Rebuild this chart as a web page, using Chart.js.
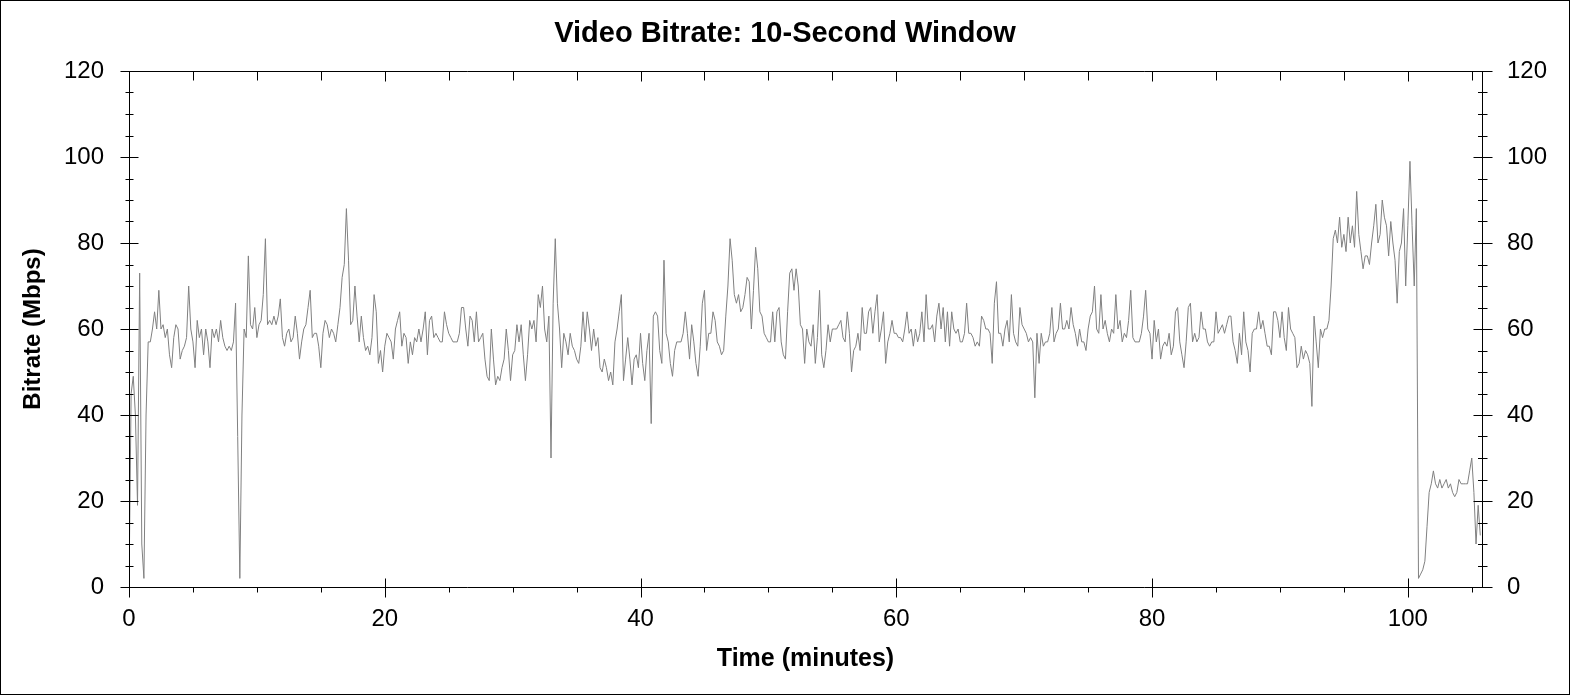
<!DOCTYPE html>
<html>
<head>
<meta charset="utf-8">
<script src="https://cdn.jsdelivr.net/npm/chart.js@4"></script>
<style>
html,body{margin:0;padding:0;background:#fff;}
#wrap{width:1570px;height:695px;position:relative;}
</style>
</head>
<body>
<div id="wrap"><canvas id="c"></canvas></div>
<script>
const chartTitle = 'Video Bitrate: 10-Second Window';
const xTitle = 'Time (minutes)';
const yTitle = 'Bitrate (Mbps)';
const sampleMinutes = 1 / 6;   // one value per 10-second window
const xMajorTicks = [0, 20, 40, 60, 80, 100];
const xMinorTicks = [5, 10, 15, 25, 30, 35, 45, 50, 55, 65, 70, 75, 85, 90, 95, 105];
const yMajorTicks = [0, 20, 40, 60, 80, 100, 120];
const yMinorTicks = [5, 10, 15, 25, 30, 35, 45, 50, 55, 65, 70, 75, 85, 90, 95, 105, 110, 115];

// Mbps, 10-second windows (rows of 5 minutes)
const bitrate = [
  0,45,49,40,19,73,10,2,40,57, 57,60,64,60,69,60,61,58,60,54, 51,58,61,60,53,55,56,58,70,60,
  57,51,62,58,60,54,60,57,51,60, 58,60,57,62,58,56,55,56,55,57, 66,35,2,40,60,58,77,61,60,65,
  58,61,62,68,81,61,62,61,63,61, 63,67,58,56,59,60,57,58,63,59, 53,57,60,61,65,69,58,59,59,56,
  51,59,62,61,58,60,59,57,61,65, 72,75,88,76,61,62,70,63,57,63, 58,55,56,54,58,68,64,52,55,50,
  56,59,58,57,53,60,62,64,56,59, 58,52,57,54,58,57,60,57,60,64, 54,62,63,58,59,58,57,57,64,61,
  59,58,57,57,57,59,65,65,60,56, 63,62,57,64,57,58,59,53,49,48, 60,53,47,49,48,51,53,60,55,48,
  54,55,61,57,61,54,48,54,62,60, 62,57,68,65,70,60,57,63,30,66, 81,66,60,51,59,57,54,59,56,55,
  53,52,56,64,57,64,60,55,60,56, 58,51,50,53,51,48,50,47,57,60, 64,68,48,53,58,53,47,53,54,51,
  59,52,48,55,59,38,63,64,63,55, 52,76,59,57,52,49,55,57,57,57, 59,64,59,53,61,57,52,49,56,66,
  69,55,59,59,64,62,57,56,54,55, 63,70,81,76,68,66,68,64,65,68, 72,71,60,69,79,74,64,63,59,58,
  57,57,64,57,64,65,57,54,53,64, 73,74,69,74,70,61,60,52,60,57, 56,61,52,58,69,54,51,55,61,57,
  60,60,60,61,62,58,57,64,59,50, 55,56,59,55,65,59,59,64,65,59, 64,68,57,60,64,52,57,59,62,59,
  59,58,58,57,60,64,59,60,56,60, 57,59,64,57,68,60,60,61,57,63, 66,60,65,57,64,56,64,60,59,60,
  57,57,59,66,59,59,58,56,57,56, 63,62,60,60,59,52,66,71,59,59, 56,60,62,57,68,59,57,56,65,61,
  60,59,57,58,57,44,59,52,59,56, 57,57,59,65,57,59,60,66,60,60, 62,60,65,61,59,56,60,57,57,55,
  60,63,64,70,60,59,68,60,62,59, 57,60,59,68,60,62,57,59,58,62, 69,58,57,57,57,59,63,69,60,59,
  53,62,57,60,53,56,57,56,59,54, 56,64,65,57,54,51,57,65,66,57, 59,57,58,64,60,60,57,56,57,57,
  64,59,60,61,59,61,63,63,57,55, 52,59,54,64,57,55,50,59,60,60, 64,60,62,59,56,56,54,64,64,62,
  58,64,58,55,65,60,59,58,51,52, 56,53,55,54,52,42,63,57,51,60, 58,60,60,62,70,81,83,80,86,79,
  82,78,86,80,84,79,92,82,78,74, 77,77,75,80,84,89,80,82,90,86, 84,77,85,80,76,66,78,80,88,70,
  84,99,84,70,88,2,3,4,6,14, 22,24,27,24,23,25,23,24,25,23, 24,22,21,22,25,24,24,24,24,27,
  30,22,10,19,12
];

const FONT = "Arial, 'Liberation Sans', sans-serif";

const framePlugin = {
  id: 'frame',
  afterDatasetsDraw(chart) {
    const ctx = chart.ctx;
    const xs = chart.scales.x, ys = chart.scales.y;
    const a = chart.chartArea;
    const L = Math.round(a.left) + 0.5, R = Math.round(a.right) + 0.5;
    const T = Math.round(a.top) + 0.5, B = Math.round(a.bottom) + 0.5;
    ctx.save();
    ctx.strokeStyle = '#000';
    ctx.lineWidth = 1;
    ctx.beginPath();
    ctx.rect(L, T, R - L, B - T);
    yMajorTicks.forEach(v => {
      const p = Math.round(ys.getPixelForValue(v)) + 0.5;
      ctx.moveTo(L - 9, p); ctx.lineTo(L + 9, p);
      ctx.moveTo(R - 9, p); ctx.lineTo(R + 10, p);
    });
    yMinorTicks.forEach(v => {
      const p = Math.round(ys.getPixelForValue(v)) + 0.5;
      ctx.moveTo(L - 4, p); ctx.lineTo(L + 4, p);
      ctx.moveTo(R - 4.5, p); ctx.lineTo(R + 5, p);
    });
    xMajorTicks.forEach(v => {
      const p = Math.round(xs.getPixelForValue(v)) + 0.5;
      ctx.moveTo(p, B - 9); ctx.lineTo(p, B + 10);
      ctx.moveTo(p, T); ctx.lineTo(p, T + 10);
    });
    xMinorTicks.forEach(v => {
      const p = Math.round(xs.getPixelForValue(v)) + 0.5;
      ctx.moveTo(p, B); ctx.lineTo(p, B + 5);
      ctx.moveTo(p, T); ctx.lineTo(p, T + 9);
    });
    ctx.stroke();
    ctx.strokeRect(0.5, 0.5, chart.width - 1, chart.height - 1);
    ctx.restore();
  }
};

const points = bitrate.map((v, i) => ({ x: i * sampleMinutes, y: v }));

new Chart(document.getElementById('c'), {
  type: 'line',
  data: {
    datasets: [{
      data: points,
      borderColor: '#808080',
      borderWidth: 1,
      pointRadius: 0,
      tension: 0,
      fill: false,
      yAxisID: 'y'
    }]
  },
  options: {
    responsive: true,
    maintainAspectRatio: false,
    animation: false,
    devicePixelRatio: 1,
    layout: { padding: 0 },
    plugins: {
      legend: { display: false },
      tooltip: { enabled: false },
      title: {
        display: true,
        text: chartTitle,
        color: '#000',
        font: { family: FONT, size: 29, weight: 'bold' },
        padding: { top: 17, bottom: 19.2 }
      }
    },
    scales: {
      x: {
        type: 'linear', position: 'bottom', min: 0, max: 105.8,
        afterBuildTicks: s => { s.ticks = xMajorTicks.map(v => ({ value: v })); },
        afterFit: s => { s.height = 108; },
        grid: { display: false, drawTicks: false, tickLength: 0 },
        border: { display: false },
        ticks: { color: '#000', font: { family: FONT, size: 24 }, padding: 18, maxRotation: 0, autoSkip: false },
        title: { display: true, text: xTitle, color: '#000', font: { family: FONT, size: 25, weight: 'bold' }, padding: { top: 0, bottom: 21 } }
      },
      y: {
        type: 'linear', position: 'left', min: 0, max: 120,
        afterBuildTicks: s => { s.ticks = yMajorTicks.map(v => ({ value: v })); },
        afterFit: s => { s.width = 129; },
        grid: { display: false, drawTicks: false, tickLength: 0 },
        border: { display: false },
        ticks: { color: '#000', font: { family: FONT, size: 24 }, padding: 25 },
        title: { display: true, text: yTitle, color: '#000', font: { family: FONT, size: 24, weight: 'bold' }, padding: { top: 19, bottom: 0 } }
      },
      y2: {
        type: 'linear', position: 'right', min: 0, max: 120,
        afterBuildTicks: s => { s.ticks = yMajorTicks.map(v => ({ value: v })); },
        afterFit: s => { s.width = 88; },
        grid: { display: false, drawTicks: false, tickLength: 0 },
        border: { display: false },
        ticks: { color: '#000', font: { family: FONT, size: 24 }, padding: 25 }
      }
    }
  },
  plugins: [framePlugin]
});
</script>
</body>
</html>
